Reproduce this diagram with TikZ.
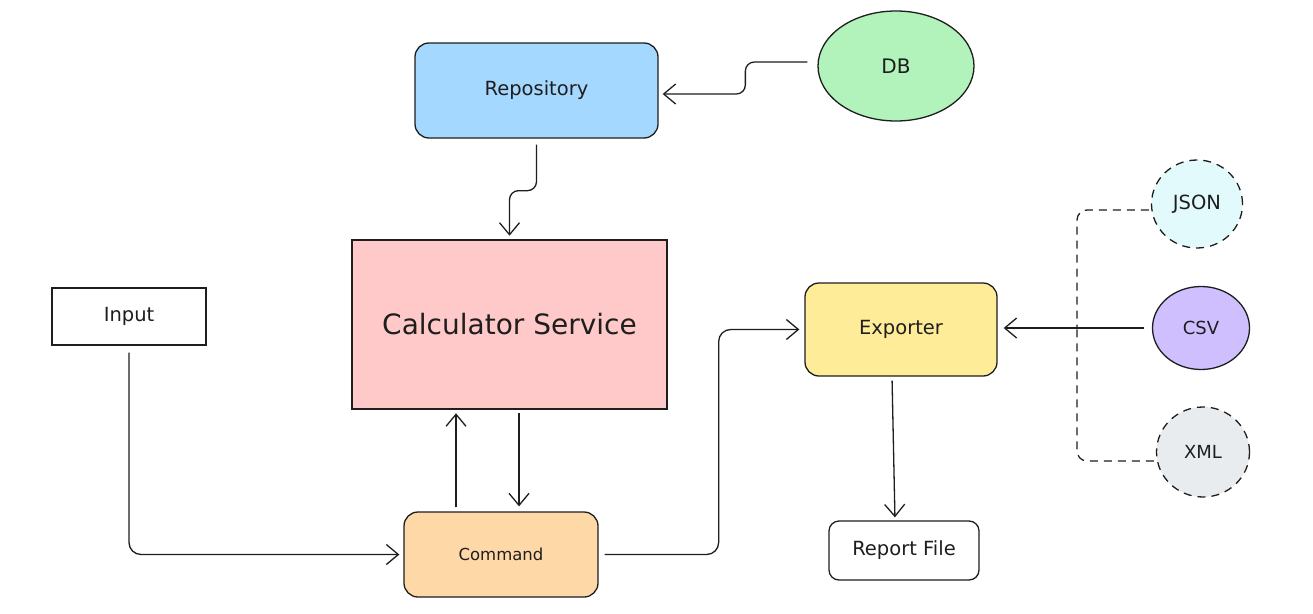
\documentclass[tikz,border=0pt]{standalone}
\usepackage{fontspec}
\setmainfont{DejaVu Sans}
\usetikzlibrary{arrows.meta,shapes.geometric}
\definecolor{ink}{HTML}{1E1E1E}
\definecolor{repofill}{HTML}{A5D8FF}
\definecolor{dbfill}{HTML}{B2F2BB}
\definecolor{calcfill}{HTML}{FFC9C9}
\definecolor{cmdfill}{HTML}{FFD8A8}
\definecolor{expfill}{HTML}{FFEC99}
\definecolor{jsonfill}{HTML}{E3FAFC}
\definecolor{csvfill}{HTML}{D0BFFF}
\definecolor{xmlfill}{HTML}{E9ECEF}
\tikzset{
  box/.style={draw=ink, line width=1.3pt, text=ink, inner sep=0pt, align=center,
    font=\fontsize{19.5}{21}\selectfont},
  rbox/.style={box, rounded corners=14pt},
  bubble/.style={box, ellipse},
  smalltext/.style={font=\fontsize{18}{20}\selectfont},
  dashedline/.style={dash pattern=on 8pt off 6pt},
  arr/.style={draw=ink, line width=1.3pt, -{Straight Barb[length=12pt,width=20pt,line width=1.3pt]}},
  link/.style={draw=ink, line width=1.3pt},
}
\begin{document}
\begin{tikzpicture}[x=1pt,y=-1pt]
\useasboundingbox[fill=white] (0,0) rectangle (1313,613);

\node[rbox, fill=repofill, minimum width=243pt, minimum height=95pt] (repo) at (536.5,90.5) {Repository};
\node[bubble, fill=dbfill, minimum width=156pt, minimum height=110pt, font=\fontsize{20}{22}\selectfont] (db) at (896,66) {DB};
\node[box, fill=calcfill, line width=2.6pt, minimum width=315pt, minimum height=169pt, font=\fontsize{28}{30}\selectfont] (calc) at (509.5,324.5) {Calculator Service};
\node[box, fill=white, minimum width=154pt, minimum height=57pt] (input) at (129,316.5) {Input};
\node[rbox, fill=cmdfill, minimum width=194pt, minimum height=85pt, font=\fontsize{16.5}{18}\selectfont] (cmd) at (501,554.5) {Command};
\node[rbox, fill=expfill, minimum width=192pt, minimum height=93pt] (exp) at (901,329.5) {Exporter};
\node[rbox, fill=white, rounded corners=10pt, minimum width=150pt, minimum height=59pt] (report) at (904,550.5) {Report File};
\node[bubble, fill=jsonfill, dashedline, minimum width=91pt, minimum height=88pt] (json) at (1197,204) {JSON};
\node[bubble, fill=csvfill, smalltext, minimum width=97pt, minimum height=83pt] (csv) at (1201,328) {CSV};
\node[bubble, fill=xmlfill, smalltext, dashedline, minimum width=93pt, minimum height=90pt] (xml) at (1203,452) {XML};

\coordinate (merge) at (1077,328);

% DB -> Repository
\draw[arr, rounded corners=9pt, shorten <=10pt, shorten >=4pt] ([yshift=4pt]db.west) -- ++(-72,0) |- ([yshift=-3.5pt]repo.east);
% Repository -> Calculator
\draw[arr, rounded corners=9pt, shorten <=6pt, shorten >=3pt] (repo.south) -- ++(0,52) -| (calc.north);
% Input -> Command
\draw[arr, rounded corners=12pt, shorten <=7pt, shorten >=4pt] (input.south) |- (cmd.west);
% Command -> Calculator (up)
\draw[arr, shorten <=4pt, shorten >=3pt] ([xshift=-45pt]cmd.north) -- ([xshift=-45pt]cmd.north |- calc.south);
% Calculator -> Command (down)
\draw[arr, shorten <=3pt, shorten >=5pt] ([xshift=18pt]cmd.north |- calc.south) -- ([xshift=18pt]cmd.north);
% Command -> Exporter
\draw[arr, rounded corners=12pt, shorten <=6pt, shorten >=5pt] (cmd.east) -- ++(120,0) |- (exp.west);
% Exporter -> Report File
\draw[arr, shorten <=4pt, shorten >=3pt] ([xshift=-9pt]exp.south) -- ([xshift=-9pt]report.north);
% CSV -> Exporter
\draw[arr, shorten <=8pt, shorten >=6pt] (csv.west) -- (exp.east |- csv.west);
% JSON, XML -> merge
\draw[link, dashedline, rounded corners=10pt, shorten <=2pt] ([yshift=-6pt]json.west) -| (merge);
\draw[link, dashedline, rounded corners=10pt, shorten <=2pt] ([yshift=-9pt]xml.west) -| (merge);
\end{tikzpicture}
\end{document}
